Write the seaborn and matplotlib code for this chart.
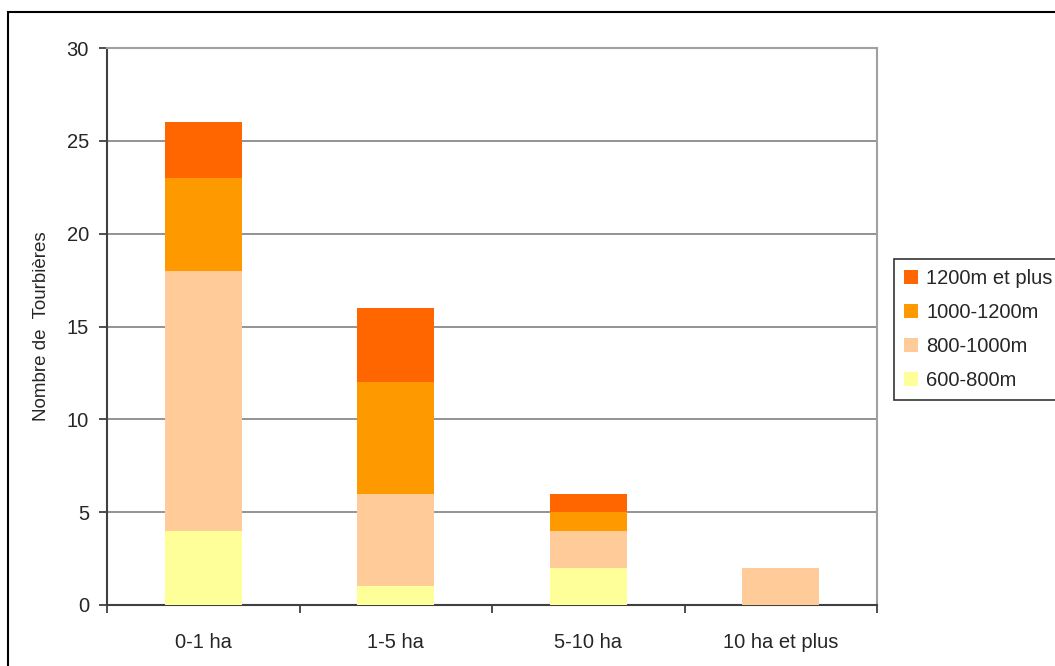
import matplotlib
matplotlib.use("Agg")
import matplotlib.pyplot as plt
import matplotlib.patches as mpatches
import pandas as pd
import seaborn as sns

categories = ["0-1 ha", "1-5 ha", "5-10 ha", "10 ha et plus"]
alt_600_800 = [4, 1, 2, 0]
alt_800_1000 = [14, 5, 2, 2]
alt_1000_1200 = [5, 6, 1, 0]
alt_1200_plus = [3, 4, 1, 0]

series_names = ["600-800m", "800-1000m", "1000-1200m", "1200m et plus"]
series_values = [alt_600_800, alt_800_1000, alt_1000_1200, alt_1200_plus]
colors = ["#FFFF99", "#FFCC99", "#FF9900", "#FF6600"]

sns.set_style("white")
plt.rcParams["font.family"] = ["Liberation Sans", "DejaVu Sans"]

# stacked: cumulative totals, drawn from the top series down
rows = []
for name, vals in zip(series_names, series_values):
    for cat, v in zip(categories, vals):
        rows.append({"cat": cat, "serie": name, "val": v})
df = pd.DataFrame(rows)
df["cum"] = df.groupby("cat", sort=False)["val"].cumsum()

fig = plt.figure(figsize=(10.55, 6.66), dpi=100)
ax = fig.add_axes([107 / 1055, 1 - 605 / 666, 770 / 1055, 557 / 666])

for name, col in reversed(list(zip(series_names, colors))):
    sub = df[df["serie"] == name]
    sns.barplot(data=sub, x="cat", y="cum", order=categories, color=col,
                width=0.4, saturation=1, edgecolor="none", linewidth=0,
                ax=ax, zorder=3)

ax.set_ylim(0, 30)
ax.set_xlim(-0.5, 3.5)
ax.set_yticks(range(0, 31, 5))
ax.yaxis.grid(True, color="#808080", linewidth=1.2, zorder=0)
ax.set_axisbelow(True)
ax.set_xlabel("")
ax.set_ylabel("Nombre de  Tourbières", fontsize=13.5, labelpad=12)

ax.set_xticks(range(len(categories)))
ax.set_xticklabels(categories)
ax.set_xticks([-0.5, 0.5, 1.5, 2.5, 3.5], minor=True)
ax.tick_params(axis="x", which="major", length=0, pad=20, labelsize=14.5)
ax.tick_params(axis="x", which="minor", length=6, width=1.2, color="#303030",
               direction="out", bottom=True)
ax.tick_params(axis="y", length=6, width=1.2, color="#303030", direction="out",
               left=True, pad=7, labelsize=14.5)

for s in ["left", "bottom"]:
    ax.spines[s].set_color("#404040")
    ax.spines[s].set_linewidth(1.5)
for s in ["top", "right"]:
    ax.spines[s].set_color("#a0a0a0")
    ax.spines[s].set_linewidth(1.5)

handles = [mpatches.Patch(facecolor=c, edgecolor="none", label=n)
           for n, c in zip(reversed(series_names), reversed(colors))]
leg = fig.legend(handles=handles, loc="upper left",
                 bbox_to_anchor=(894 / 1055, 1 - 259 / 666),
                 frameon=True, fontsize=14.5, handlelength=0.7,
                 handleheight=0.7, handletextpad=0.4, labelspacing=0.75,
                 borderpad=0.5, borderaxespad=0, fancybox=False)
leg.get_frame().set_edgecolor("black")
leg.get_frame().set_linewidth(1.2)

# outer chart border
fig.patches.append(mpatches.Rectangle((8 / 1055, -0.1), 1.2, 1.1 - 12 / 666,
                                      transform=fig.transFigure, fill=False,
                                      edgecolor="black", linewidth=1.5))

fig.savefig("out.png", dpi=100)
